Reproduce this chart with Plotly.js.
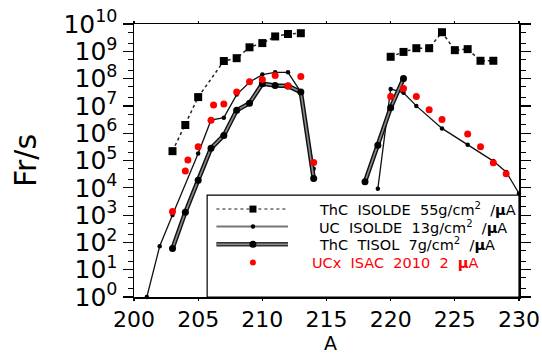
<!DOCTYPE html>
<html>
<head>
<meta charset="utf-8">
<script src="https://cdn.plot.ly/plotly-3.0.1.min.js"></script>
<style>html,body{margin:0;padding:0;background:#fff;}#chart{width:542px;height:355px;}</style>
</head>
<body>
<div id="chart"></div>
<script>
// ---- data ----
const thcIsoldeA = [203, 204, 205, 207, 208, 209, 210, 211, 212, 213, null, 220, 221, 222, 223, 224, 225, 226, 227, 228];
const thcIsoldeY = [2.2e5, 2.0e6, 2.1e7, 4.4e8, 5.6e8, 1.4e9, 2.0e9, 3.5e9, 4.3e9, 4.6e9, null, 6.3e8, 9.5e8, 1.3e9, 1.3e9, 5.0e9, 1.1e9, 1.2e9, 4.5e8, 4.5e8];

const ucIsoldeA = [201, 202, 203, 205, 206, 207, 208, 209, 210, 211, 212, 213, 214, null, 219, 220, 221, 222, 224, 226, 228, 229, 230];
const ucIsoldeY = [1, 72, 1.0e3, 1.8e5, 3.0e6, 3.7e6, 2.6e7, 7.4e7, 1.4e8, 1.7e8, 1.7e8, 3.2e7, 5.0e4, null, 9.3e3, 4.2e7, 3.0e7, 1.0e7, 1.5e6, 3.8e5, 9.5e4, 3.8e4, 6.2e3];

const thcTisolA = [203, 204, 205, 206, 207, 208, 209, 210, 211, 212, 213, 214, null, 218, 219, 220, 221];
const thcTisolY = [60, 1.26e3, 1.9e4, 2.8e5, 8.3e5, 6.9e6, 1.26e7, 6.5e7, 5.6e7, 5.4e7, 3.2e7, 2.2e4, null, 1.66e4, 3.6e5, 8.5e6, 1.0e8];

const ucxIsacA = [203, 204, 204.2, 205, 206, 206.2, 207, 208, 209, 210, 211, 212, 213, 214, 220, 221, 222, 223, 224, 226, 227, 228, 229];
const ucxIsacY = [1.35e3, 4.1e4, 1.05e5, 3.2e5, 3.0e6, 1.07e7, 1.17e7, 3.2e7, 7.6e7, 9.3e7, 1.3e8, 5.4e7, 1.2e8, 8.5e4, 2.2e7, 4.3e7, 2.2e7, 7.2e6, 3.2e6, 9.3e5, 3.2e5, 8.3e4, 3.3e4];

const xTickVals = [200, 205, 210, 215, 220, 225, 230];
const yTickVals = [1, 1e1, 1e2, 1e3, 1e4, 1e5, 1e6, 1e7, 1e8, 1e9, 1e10];
const yTickText = ['10<sup>0</sup>', '10<sup>1</sup>', '10<sup>2</sup>', '10<sup>3</sup>', '10<sup>4</sup>', '10<sup>5</sup>', '10<sup>6</sup>', '10<sup>7</sup>', '10<sup>8</sup>', '10<sup>9</sup>', '10<sup>10</sup>'];

const legendLabels = ['ThC  ISOLDE  55g/cm<sup>2</sup>  /<b>μ</b>A', 'UC  ISOLDE  13g/cm<sup>2</sup>  /<b>μ</b>A', 'ThC  TISOL  7g/cm<sup>2</sup>  /<b>μ</b>A', 'UCx  ISAC  2010  2  <b>μ</b>A'];
const xTitle = 'A';

// ---- traces ----
const FONT = 'DejaVu Sans, Liberation Sans, Arial, sans-serif';
const traces = [
  {x: thcIsoldeA, y: thcIsoldeY, mode: 'lines+markers', cliponaxis: false,
   line: {color: '#222', width: 1.5, dash: 'dot'},
   marker: {symbol: 'square', size: 8, color: '#000'}},
  {x: ucIsoldeA, y: ucIsoldeY, mode: 'lines+markers', cliponaxis: false,
   line: {color: '#111', width: 1.3},
   marker: {symbol: 'circle', size: 4.5, color: '#000'}},
  {x: thcTisolA, y: thcTisolY, mode: 'lines', cliponaxis: false,
   line: {color: '#111', width: 4.5}},
  {x: thcTisolA, y: thcTisolY, mode: 'lines+markers', cliponaxis: false,
   line: {color: '#8a8a8a', width: 1.6},
   marker: {symbol: 'circle', size: 7, color: '#000'}},
  {x: ucxIsacA, y: ucxIsacY, mode: 'markers', cliponaxis: false,
   marker: {symbol: 'circle', size: 7, color: '#ff0000'}}
];

// ---- legend (drawn as decorations in paper coordinates) ----
const LX0 = 0.214, LX1 = 0.400, LXM = 0.309, TX = 0.475;
const rows = [0.322, 0.258, 0.193, 0.126];
const shapes = [
  {type: 'rect', xref: 'paper', yref: 'paper', x0: 0.19, x1: 1, y0: 0, y1: 0.373,
   line: {color: '#000', width: 1.2}, fillcolor: '#fff', layer: 'above'},
  {type: 'line', xref: 'paper', yref: 'paper', x0: LX0, x1: LX1, y0: rows[0], y1: rows[0],
   line: {color: '#666', width: 1.5, dash: 'dot'}, layer: 'above'},
  {type: 'line', xref: 'paper', yref: 'paper', x0: LX0, x1: LX1, y0: rows[1], y1: rows[1],
   line: {color: '#777', width: 2}, layer: 'above'},
  {type: 'line', xref: 'paper', yref: 'paper', x0: LX0, x1: LX1, y0: rows[2], y1: rows[2],
   line: {color: '#333', width: 4.5}, layer: 'above'},
  {type: 'line', xref: 'paper', yref: 'paper', x0: LX0, x1: LX1, y0: rows[2], y1: rows[2],
   line: {color: '#8a8a8a', width: 1.6}, layer: 'above'}
];
function dot(kind, row, r, color) {
  return {type: kind, xref: 'paper', yref: 'paper', xsizemode: 'pixel', ysizemode: 'pixel',
    xanchor: LXM, yanchor: rows[row], x0: -r, x1: r, y0: -r, y1: r,
    fillcolor: color, line: {width: 0}, layer: 'above'};
}
shapes.push(dot('rect', 0, 3.5, '#000'));
shapes.push(dot('circle', 1, 2.2, '#000'));
shapes.push(dot('circle', 2, 3.5, '#000'));
shapes.push(dot('circle', 3, 3, '#ff0000'));

const annotations = legendLabels.map((t, i) => ({
  xref: 'paper', yref: 'paper', x: i === 3 ? 0.457 : TX, y: rows[i],
  xanchor: 'left', yanchor: 'middle', showarrow: false, text: t,
  font: {family: FONT, size: 14.5, color: i === 3 ? '#ff0000' : '#000'}
}));
// x-axis title placed below the tick labels
annotations.push({xref: 'paper', yref: 'paper', x: 0.51, y: -0.168, xanchor: 'center', yanchor: 'middle',
  showarrow: false, text: xTitle, font: {family: FONT, size: 19, color: '#000'}});

const layout = {
  width: 542, height: 355,
  margin: {l: 134, r: 23, t: 24, b: 58, pad: 0},
  paper_bgcolor: '#fff', plot_bgcolor: '#fff',
  showlegend: false,
  font: {family: FONT, color: '#000'},
  xaxis: {
    range: [200, 230], tickmode: 'array', tickvals: xTickVals,
    ticks: 'outside', ticklen: 2, tickwidth: 1.2, tickcolor: '#000',
    ticklabeloverflow: 'allow',
    showline: true, linecolor: '#000', linewidth: 1.5, mirror: 'allticks',
    showgrid: false, zeroline: false,
    tickfont: {family: FONT, size: 22, color: '#000'}
  },
  yaxis: {
    type: 'log', range: [0, 10], tickmode: 'array', tickvals: yTickVals, ticktext: yTickText,
    ticks: 'outside', ticklen: 10, tickwidth: 1.2, tickcolor: '#000',
    minor: {ticks: 'outside', ticklen: 5, tickwidth: 1, tickcolor: '#000', showgrid: false},
    showline: true, linecolor: '#000', linewidth: 1.5, mirror: 'allticks',
    showgrid: false, zeroline: false,
    tickfont: {family: FONT, size: 25, color: '#000'},
    title: {text: 'Fr/s', font: {family: FONT, size: 30, color: '#000'}, standoff: 18}
  },
  shapes: shapes,
  annotations: annotations
};

Plotly.newPlot('chart', traces, layout, {staticPlot: true, displayModeBar: false});
</script>
</body>
</html>
